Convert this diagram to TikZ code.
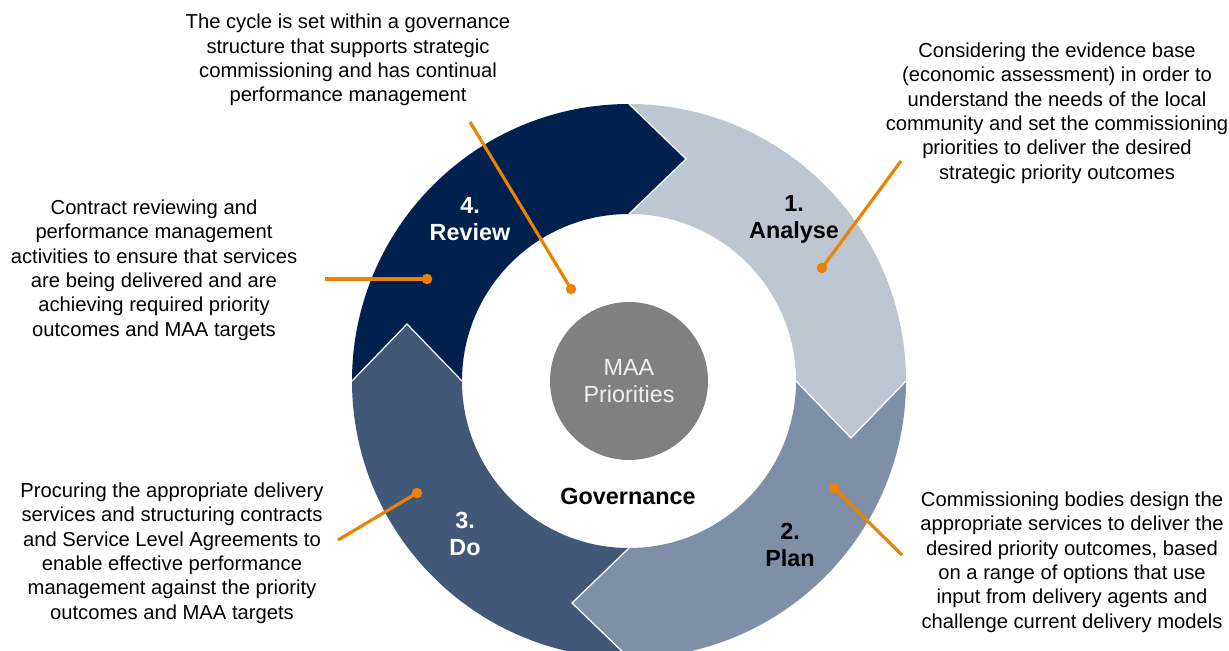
\documentclass[tikz,border=0pt]{standalone}
\usepackage{fontspec}
\setmainfont{Liberation Sans}
\definecolor{analyseC}{RGB}{190,198,210}
\definecolor{planC}{RGB}{127,143,167}
\definecolor{doC}{RGB}{65,88,121}
\definecolor{reviewC}{RGB}{0,32,78}
\definecolor{hubgray}{RGB}{128,128,128}
\definecolor{accent}{RGB}{235,130,5}
\begin{document}
\begin{tikzpicture}[x=0.02cm,y=0.02cm,
  desc/.style={align=center, font=\fontsize{11.5}{13.9}\selectfont, text=black, inner sep=0pt},
  steplabel/.style={align=center, font=\fontsize{13.3}{15.4}\selectfont\bfseries, inner sep=0pt},
  leader/.style={draw=accent, line width=1.8pt},
  dot/.style={circle, fill=accent, minimum size=0.21cm, inner sep=0pt},
  headedge/.style={draw=white, line width=0.7pt, line join=miter}]
\useasboundingbox (0,0) rectangle (1229,650);
\clip (0,0) rectangle (1229,650);

% ring: four quarter bands, then the arrow heads on top
\begin{scope}[shift={(629,269)}]
  \fill[analyseC] (90:277) arc[start angle=90, end angle=0, radius=277]
     -- (0:167) arc[start angle=0, end angle=90, radius=167] -- cycle;
  \fill[planC] (0:277) arc[start angle=0, end angle=-90, radius=277]
     -- (-90:167) arc[start angle=-90, end angle=0, radius=167] -- cycle;
  \fill[doC] (-90:277) arc[start angle=-90, end angle=-180, radius=277]
     -- (-180:167) arc[start angle=-180, end angle=-90, radius=167] -- cycle;
  \fill[reviewC] (180:277) arc[start angle=180, end angle=90, radius=277]
     -- (90:167) arc[start angle=90, end angle=180, radius=167] -- cycle;

  % heads pointing clockwise into the next step (a small overlap hides the seam)
  \fill[analyseC] (168,3) -- (167,0) -- (222,-57) -- (277,0) -- (276,3) -- cycle;
  \draw[headedge] (167,0) -- (222,-57) -- (277,0);
  \fill[planC] (3,-168) -- (0,-167) -- (-57,-222) -- (0,-277) -- (3,-276) -- cycle;
  \draw[headedge] (0,-167) -- (-57,-222) -- (0,-277);
  \fill[doC] (-168,-3) -- (-167,0) -- (-222,57) -- (-277,0) -- (-276,-3) -- cycle;
  \draw[headedge] (-167,0) -- (-222,57) -- (-277,0);
  \fill[reviewC] (-3,168) -- (0,167) -- (57,222) -- (0,277) -- (-3,276) -- cycle;
  \draw[headedge] (0,167) -- (57,222) -- (0,277);
\end{scope}

% hub
\node[circle, fill=hubgray, minimum size=3.16cm, inner sep=0pt, align=center,
      text=white!94!black, font=\fontsize{13.3}{15.4}\selectfont] (hub) at (629,269) {MAA\\Priorities};
\node[steplabel, text=black] (gov) at (628,154) {Governance};

% step labels
\node[steplabel, text=black] (s1) at (794,431) {1.\\Analyse};
\node[steplabel, text=black] (s2) at (790,105) {2.\\Plan};
\node[steplabel, text=white] (s3) at (465,116) {3.\\Do};
\node[steplabel, text=white] (s4) at (470,431) {4.\\Review};

% descriptions
\node[desc] (tTop) at (348,590) {The cycle is set within a governance\\structure that supports strategic\\commissioning and has continual\\performance management};
\node[desc] (tAnalyse) at (1057,537) {Considering the evidence base\\(economic assessment) in order to\\understand the needs of the local\\community and set the commissioning\\priorities to deliver the desired\\strategic priority outcomes};
\node[desc] (tReview) at (154,380) {Contract reviewing and\\performance management\\activities to ensure that services\\are being delivered and are\\achieving required priority\\outcomes and MAA targets};
\node[desc] (tDo) at (172,97) {Procuring the appropriate delivery\\services and structuring contracts\\and Service Level Agreements to\\enable effective performance\\management against the priority\\outcomes and MAA targets};
\node[desc] (tPlan) at (1072,88) {Commissioning bodies design the\\appropriate services to deliver the\\desired priority outcomes, based\\on a range of options that use\\input from delivery agents and\\challenge current delivery models};

% leader lines with dots
\node[dot] (dTop) at (571,361) {};
\node[dot] (dReview) at (427,371) {};
\node[dot] (dAnalyse) at (822,382) {};
\node[dot] (dPlan) at (834,162) {};
\node[dot] (dDo) at (417,157) {};
\coordinate (eTop) at (470,528);
\coordinate (eReview) at (325,371);
\coordinate (eAnalyse) at (901,489);
\coordinate (ePlan) at (902,95);
\coordinate (eDo) at (338,110);
\draw[leader] (eTop) -- (dTop.center);
\draw[leader] (eReview) -- (dReview.center);
\draw[leader] (eAnalyse) -- (dAnalyse.center);
\draw[leader] (ePlan) -- (dPlan.center);
\draw[leader] (eDo) -- (dDo.center);
\end{tikzpicture}
\end{document}
